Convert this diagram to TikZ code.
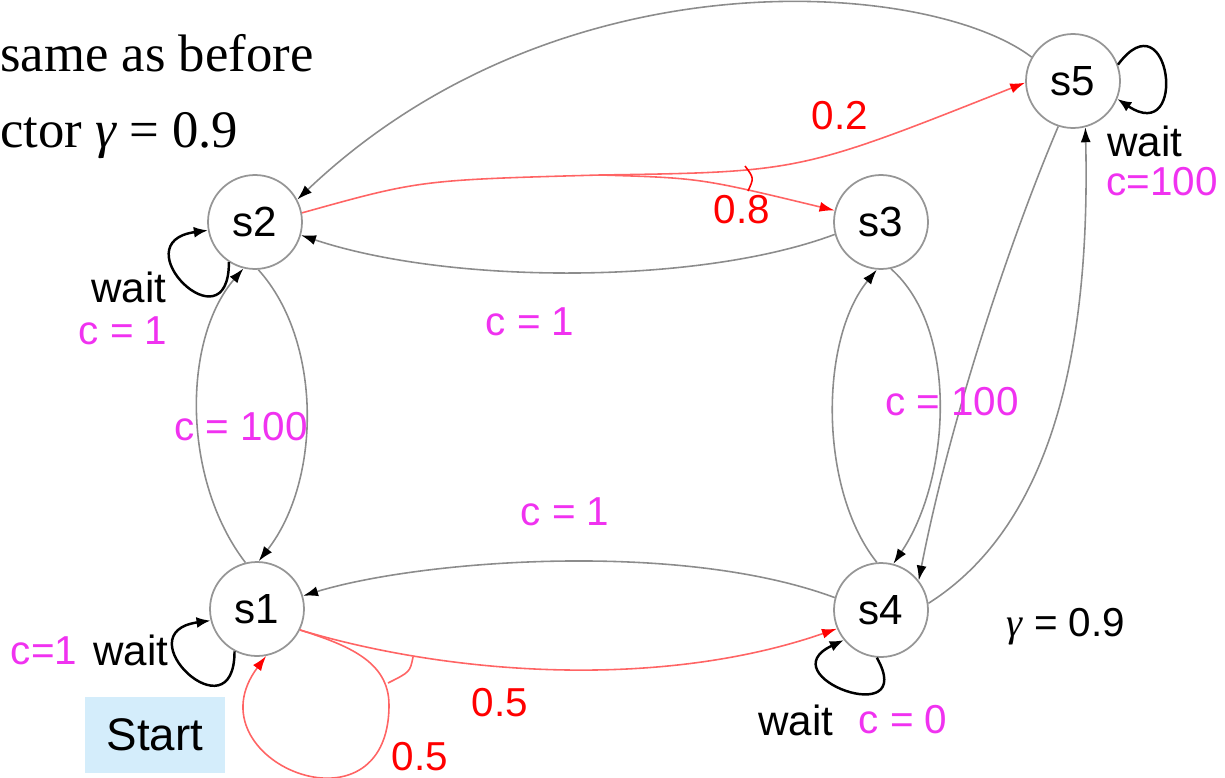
\documentclass[tikz,border=0pt]{standalone}
\usepackage{fontspec}
\setmainfont{Liberation Sans}
\newfontfamily\timesfont{Liberation Serif}
\usetikzlibrary{arrows.meta}

\definecolor{costpink}{RGB}{240,50,240}
\definecolor{probred}{RGB}{255,0,0}
\definecolor{linered}{RGB}{255,100,100}
\definecolor{stategray}{RGB}{150,150,150}
\definecolor{edgegray}{RGB}{140,140,140}
\definecolor{startblue}{RGB}{212,237,251}

\begin{document}
\begin{tikzpicture}[x=0.02cm,y=-0.02cm,
    state/.style={circle,draw=stategray,line width=1pt,minimum size=1.88cm,inner sep=0pt,font=\fontsize{24}{28}\selectfont},
    move/.style={draw=edgegray,line width=0.9pt,-{Latex[black,length=0.3cm,width=0.2cm]}},
    chance/.style={draw=linered,line width=0.9pt},
    chancearr/.style={chance,-{Latex[probred,length=0.3cm,width=0.2cm]}},
    waitloop/.style={draw=black,line width=1.4pt,-{Latex[length=0.28cm,width=0.22cm]}},
    cost/.style={text=costpink,font=\fontsize{23}{27}\selectfont,inner sep=0pt},
    prob/.style={text=probred,font=\fontsize{23}{27}\selectfont,inner sep=0pt},
    act/.style={font=\fontsize{24}{28}\selectfont,inner sep=0pt}]
  \useasboundingbox (0,0) rectangle (1225,778);

  % heading lines
  \node[anchor=base west,inner sep=0pt,font=\timesfont\fontsize{30}{36}\selectfont] (head1) at (0,71) {same as before};
  \node[anchor=base west,inner sep=0pt,font=\timesfont\fontsize{30}{36}\selectfont] (head2) at (0,147) {ctor {\itshape γ} = 0.9};

  % states
  \node[state] (s1) at (257,609) {s1};
  \node[state] (s2) at (255,222) {s2};
  \node[state] (s3) at (881,222) {s3};
  \node[state] (s4) at (881,610) {s4};
  \node[state] (s5) at (1073,81) {s5};

  % moves between states
  \draw[move] (s5.150) .. controls (930,-20) and (560,-50) .. (s2.28);
  \draw[move] (s3.-165) .. controls (700,285) and (450,285) .. (s2.-16);
  \draw[move] (s2.-86) .. controls (322,340) and (322,480) .. (s1.88);
  \draw[move] (s1.104) .. controls (182,480) and (182,340) .. (s2.-104);
  \draw[move] (s4.165) .. controls (680,540) and (420,560) .. (s1.16);
  \draw[move] (s4.95) .. controls (819,490) and (819,340) .. (s3.-95);
  \draw[move] (s3.-78) .. controls (960,330) and (950,480) .. (s4.75);
  \draw[move] (s5.-108) .. controls (1010,240) and (950,420) .. (s4.38);
  \draw[move] (s4.8) .. controls (1060,520) and (1090,330) .. (s5.-75);

  % chance branches out of s2
  \coordinate (split) at (600,175);
  \draw[chance] (s2.11) .. controls (420,180) .. (split);
  \draw[chancearr] (split) .. controls (800,172) .. (s5.182);
  \draw[chancearr] (split) .. controls (700,178) .. (s3.166);
  \draw[chance,probred] (745,166) .. controls (754,178) .. (748,191);

  % chance branches out of s1
  \coordinate (s1right) at (389,705);
  \draw[chancearr] (s1.-26) .. controls (450,675) and (660,690) .. (s4.-157);
  \draw[chancearr] (s1.-26) .. controls (347,645) and (389,661) .. (s1right)
    .. controls (389,843) and (188,760) .. (s1.-79);
  \draw[chance] (413,657) .. controls (410,672) .. (388,683);

  % wait loops
  \draw[waitloop] (s2.-123) .. controls +(0,88) and +(-88,12) .. (s2.-170);
  \draw[waitloop] (s1.-118) .. controls +(0,88) and +(-88,12) .. (s1.-166);
  \draw[waitloop] (s4.-95) .. controls +(42,74) and +(-77,36) .. (s4.-141);
  \draw[waitloop] (s5.20) .. controls +(52,-70) and +(72,48) .. (s5.-22);

  % labels
  \node[prob] (p02) at (840,116) {0.2};
  \node[prob] (p08) at (742,210) {0.8};
  \node[prob] (p05a) at (500,703) {0.5};
  \node[prob] (p05b) at (420,757) {0.5};
  \node[cost] (c32) at (530,322) {c = 1};
  \node[cost] (c21) at (241,427) {c = 100};
  \node[cost] (c41) at (565,512) {c = 1};
  \node[cost] (c34) at (952,402) {c = 100};
  \node[act] (w2) at (129,287) {wait};
  \node[cost] (cw2) at (123,331) {c = 1};
  \node[act] (w1) at (131,650) {wait};
  \node[cost] (cw1) at (44,651) {c=1};
  \node[act] (w4) at (796,720) {wait};
  \node[cost] (cw4) at (903,720) {c = 0};
  \node[act] (w5) at (1145,141) {wait};
  \node[cost] (cw5) at (1162,182) {c=100};
  \node[fill=startblue,minimum width=2.8cm,minimum height=1.52cm,font=\fontsize{26}{30}\selectfont] (start) at (155,735) {Start};
  \node[font=\fontsize{23}{27}\selectfont] (gamma) at (1066,627) {{\timesfont\itshape γ} = 0.9};
\end{tikzpicture}
\end{document}
